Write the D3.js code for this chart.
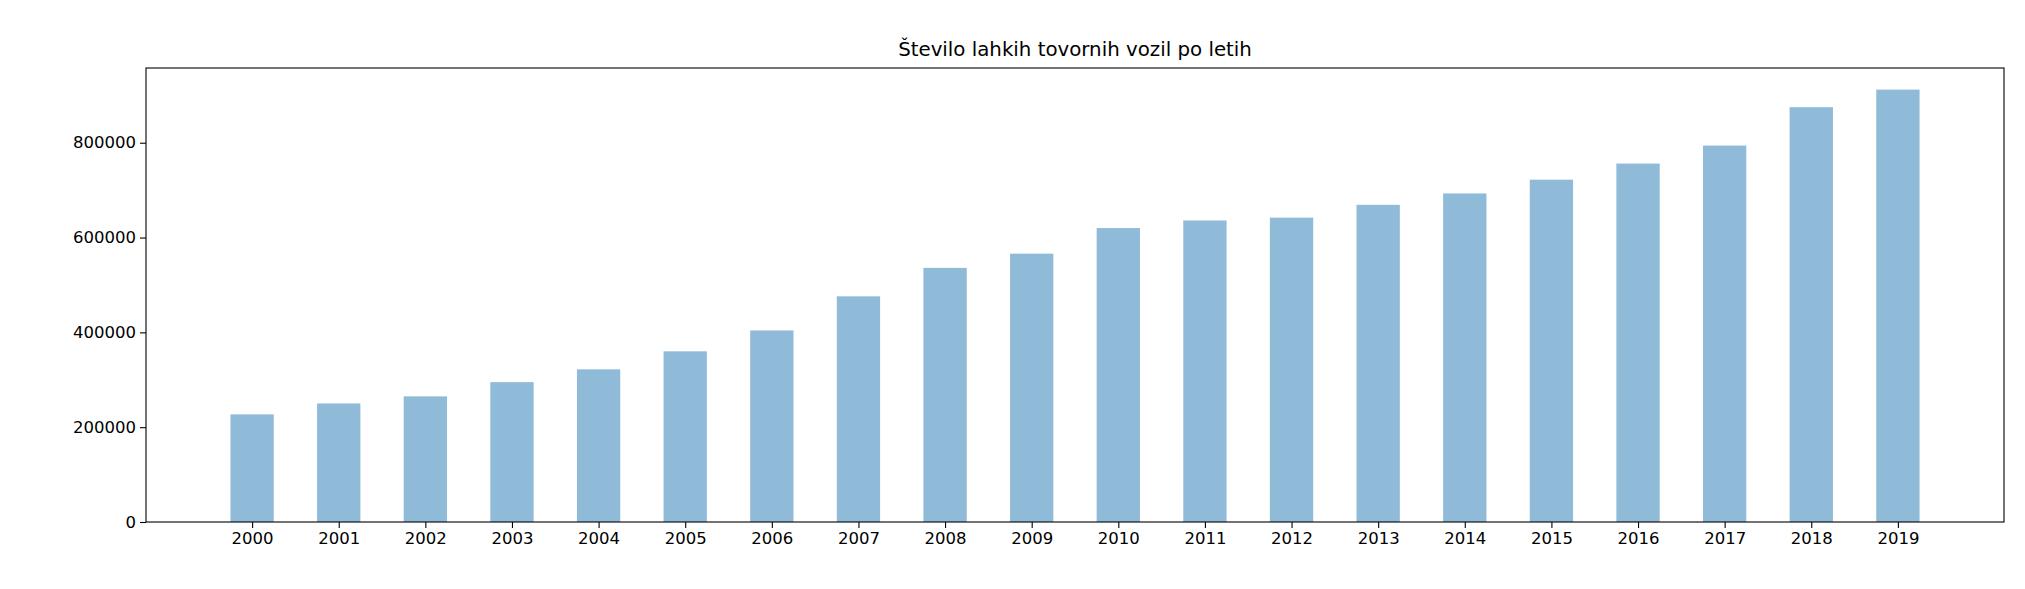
<!DOCTYPE html>
<html>
<head>
<meta charset="utf-8">
<script src="https://cdn.jsdelivr.net/npm/d3@7"></script>
<style>
  body { margin: 0; background: #fff; }
  text { font-family: "DejaVu Sans", sans-serif; fill: #000; }
</style>
</head>
<body>
<svg id="chart" width="2025" height="589"></svg>
<script>
const years = ["2000", "2001", "2002", "2003", "2004", "2005", "2006", "2007", "2008", "2009",
  "2010", "2011", "2012", "2013", "2014", "2015", "2016", "2017", "2018", "2019"];
const vehicles = [227000, 250000, 265000, 295000, 322000, 360000, 404000, 476000, 536000, 566000,
  620000, 636000, 642000, 669000, 693000, 722000, 756000, 794000, 875000, 912000];
const yTicks = [0, 200000, 400000, 600000, 800000];

const svg = d3.select("#chart");
const plotLeft = 146, plotRight = 2004, plotTop = 68, plotBottom = 522;

// matplotlib-like limits: bars of width 0.5 plus 5% margins
const x = d3.scaleLinear().domain([-1.225, years.length - 1 + 1.225]).range([plotLeft, plotRight]);
const y = d3.scaleLinear().domain([0, d3.max(vehicles) * 1.05]).range([plotBottom, plotTop]);
const barW = x(0.5) - x(0);

svg.selectAll("rect.bar")
  .data(vehicles)
  .enter()
  .append("rect")
  .attr("class", "bar")
  .attr("x", (d, i) => x(i) - barW / 2)
  .attr("y", (d) => y(d))
  .attr("width", barW)
  .attr("height", (d) => y(0) - y(d))
  .attr("fill", "#1f77b4")
  .attr("fill-opacity", 0.5);

// Axes
const xAxis = d3.axisBottom(x)
  .tickValues(d3.range(years.length))
  .tickFormat((i) => years[i])
  .tickSize(6).tickPadding(4);
const yAxis = d3.axisLeft(y)
  .tickValues(yTicks)
  .tickFormat(d3.format("d"))
  .tickSize(6).tickPadding(4);

const gx = svg.append("g").attr("transform", `translate(0,${plotBottom})`).call(xAxis);
const gy = svg.append("g").attr("transform", `translate(${plotLeft},0)`).call(yAxis);
[gx, gy].forEach((g) => {
  g.select(".domain").remove();
  g.selectAll("text").style("font-size", "16.5px").style("font-family", "DejaVu Sans, sans-serif");
  g.selectAll("line").attr("stroke", "#000").attr("stroke-width", 1.1);
});

// Frame
svg.append("rect")
  .attr("x", plotLeft).attr("y", plotTop)
  .attr("width", plotRight - plotLeft).attr("height", plotBottom - plotTop)
  .attr("fill", "none").attr("stroke", "#000").attr("stroke-width", 1.1);

// Title
svg.append("text")
  .attr("x", (plotLeft + plotRight) / 2).attr("y", plotTop - 12)
  .attr("text-anchor", "middle")
  .style("font-size", "19.8px")
  .text("Število lahkih tovornih vozil po letih");
</script>
</body>
</html>
